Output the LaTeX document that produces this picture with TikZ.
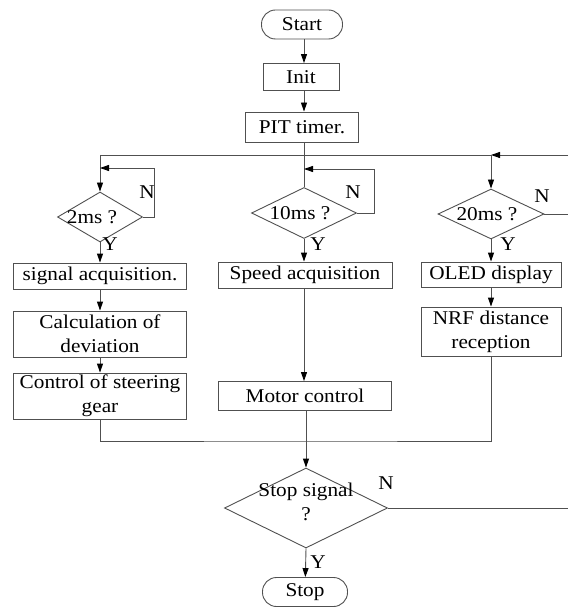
\documentclass[tikz,border=0pt]{standalone}
\usepackage{fontspec}
\setmainfont{Liberation Serif}[FakeStretch=1.09]
\usetikzlibrary{arrows.meta, shapes.geometric}
\definecolor{linegray}{RGB}{80,80,80}
\tikzset{
    flow/.style={draw=linegray, line width=0.9pt},
    arr/.style={flow, -{Triangle[length=9pt, width=6pt, black]}},
    procbox/.style={draw=linegray, line width=0.9pt, rectangle, align=center, inner sep=0pt},
    termbox/.style={procbox, rounded corners=14pt},
    decide/.style={draw=linegray, line width=0.9pt, diamond, inner sep=0pt},
    yn/.style={inner sep=0pt}
}
\begin{document}
\begin{tikzpicture}[x=1pt, y=-1pt, every node/.style={font=\fontsize{19.5}{24}\selectfont}]
    \useasboundingbox (0,0) rectangle (568,612);

    % Start and init
    \node[termbox, minimum width=81pt, minimum height=29pt] (start) at (302,24.5) {Start};
    \node[procbox, minimum width=76pt, minimum height=27pt] (init) at (301,77) {Init};
    \node[procbox, minimum width=113pt, minimum height=30pt] (pit) at (302,127) {PIT timer.};
    \coordinate (spine) at (304,0);
    \draw[arr] (start.south -| spine) -- (init.north -| spine);
    \draw[arr] (init.south -| spine) -- (pit.north -| spine);

    % Timer branches
    \node[decide, minimum width=85pt, minimum height=50pt] (q2) at (100,217) {};
    \node (q2txt) at (92,217) {2ms ?};
    \node[decide, minimum width=105pt, minimum height=51pt] (q10) at (304,213) {};
    \node (q10txt) at (300,213) {10ms ?};
    \node[decide, minimum width=106pt, minimum height=50pt] (q20) at (491,214) {};
    \node (q20txt) at (487,214) {20ms ?};

    \coordinate (busR) at (568,155);
    \coordinate (busL) at (100,155);
    \draw[arr] (busR) -- (q20.north |- busR);
    \draw[arr] (q20.north |- busR) -- (q20.north);
    \draw[flow] (q20.north |- busR) -- (busL);
    \draw[arr] (busL) -- (q2.north);
    \draw[flow] (pit.south -| q10.north) -- (q10.north);

    % N loops
    \coordinate (loop2) at (154,168);
    \coordinate (loop10) at (374,169);
    \coordinate (out20) at (568,214);
    \draw[arr] (q2.east) -| (loop2) -- (q2.north |- loop2);
    \draw[arr] (q10.east) -| (loop10) -- (q10.north |- loop10);
    \draw[flow] (q20.east) -- (out20);
    \node[yn] (n2) at (147,192) {N};
    \node[yn] (n10) at (353,192) {N};
    \node[yn] (n20) at (542,196) {N};
    \node[yn] (y2) at (110,244) {Y};
    \node[yn] (y10) at (318,244) {Y};
    \node[yn] (y20) at (508,244) {Y};

    % Column 1: 2ms
    \node[procbox, minimum width=173pt, minimum height=26pt] (sigacq) at (100,276) {signal acquisition.};
    \node[procbox, minimum width=173pt, minimum height=46pt] (calc) at (100,334) {Calculation of\\deviation};
    \node[procbox, minimum width=173pt, minimum height=46pt] (steer) at (100,396) {Control of steering\\gear};
    \draw[arr] (q2.south) -- (sigacq);
    \draw[arr] (sigacq) -- (calc);
    \draw[arr] (calc) -- (steer);

    % Column 2: 10ms
    \node[procbox, minimum width=174pt, minimum height=26pt] (speed) at (305,275) {Speed acquisition};
    \node[procbox, minimum width=173pt, minimum height=29pt] (motor) at (305,396) {Motor control};
    \draw[arr] (q10.south) -- (speed.north -| q10.south);
    \draw[arr] (speed.south -| q10.south) -- (motor.north -| q10.south);

    % Column 3: 20ms
    \node[procbox, minimum width=140pt, minimum height=25pt] (oled) at (491,274.5) {OLED display};
    \node[procbox, minimum width=140pt, minimum height=49pt] (nrf) at (491,331.5) {NRF distance\\reception};
    \draw[arr] (q20.south) -- (oled);
    \draw[arr] (oled) -- (nrf);

    % Merge and stop
    \coordinate (merge) at (305,441);
    \draw[flow] (steer.south) |- (merge) -| (nrf.south);
    \node[decide, minimum width=163pt, minimum height=80pt] (stopq) at (306,508) {};
    \node[align=center] (stoptxt) at (306,502) {Stop signal\\?};
    \draw[arr] (motor.south -| stopq.north) -- (stopq.north);
    \coordinate (out) at (568,508);
    \draw[flow] (stopq.east) -- (out);
    \node[yn] (nstop) at (386,483) {N};
    \node[yn] (ystop) at (318,562) {Y};
    \node[termbox, minimum width=85pt, minimum height=29pt] (stop) at (305,592) {Stop};
    \draw[arr] (stopq.south) -- (stop);
\end{tikzpicture}
\end{document}
